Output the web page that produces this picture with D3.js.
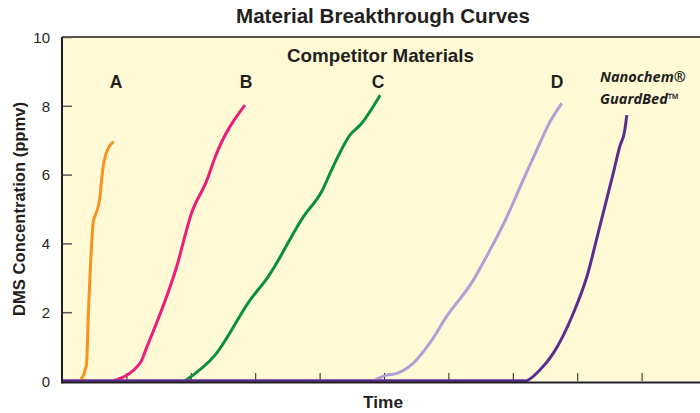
<!DOCTYPE html>
<html>
<head>
<meta charset="utf-8">
<script src="https://cdn.jsdelivr.net/npm/d3@7"></script>
<style>
  body { margin: 0; background: #fff; }
  text { font-family: "Liberation Sans", Arial, sans-serif; fill: #231f20; }
  .ttl { font-weight: bold; }
  .tick text { font-size: 15px; }
  .brand { font-family: "Open Sans", sans-serif; font-style: italic; font-weight: 700; font-size: 14.5px; }
</style>
</head>
<body>
<script>
// breakthrough curves, [time, ppmv]
var curveA = [[0.28,0],[0.38,0.47],[0.41,1.97],[0.49,4.68],[0.51,4.78],[0.59,5.36],[0.62,5.94],[0.67,6.52],[0.80,6.96]];
var curveB = [[0.79,0],[1.21,0.51],[1.32,1.0],[1.78,3.32],[2.01,4.87],[2.25,5.84],[2.38,6.52],[2.84,8.02]];
var curveC = [[1.91,0],[2.38,0.76],[2.92,2.35],[3.20,3.03],[3.75,4.78],[4.03,5.50],[4.21,6.23],[4.47,7.15],[4.63,7.44],[4.94,8.31]];
var curveD = [[4.83,0],[5.04,0.17],[5.20,0.22],[5.45,0.51],[5.71,1.10],[5.97,1.87],[6.39,2.94],[6.59,3.61],[6.91,4.78],[7.16,5.84],[7.42,6.91],[7.55,7.44],[7.76,8.07]];
var curveN = [[0,0],[7.19,0],[7.42,0.32],[7.63,0.81],[7.94,1.97],[8.15,3.03],[8.35,4.49],[8.56,6.04],[8.66,6.81],[8.74,7.30],[8.77,7.73]];

var yTicks = [0,2,4,6,8,10];
var xTicks = [1,2,3,4,5,6,7,8,9];

var W = 700, H = 413;
var svg = d3.select("body").append("svg").attr("width", W).attr("height", H);

var x = d3.scaleLinear().domain([0,10]).range([62,706]);
var y = d3.scaleLinear().domain([0,10]).range([381,37]);

// plot background
svg.append("rect").attr("x", x(0)).attr("y", y(10)).attr("width", W - x(0) + 5).attr("height", y(0) - y(10))
  .attr("fill", "#fff9d5");
svg.append("line").attr("x1", x(0)).attr("x2", W).attr("y1", y(10)).attr("y2", y(10))
  .attr("stroke", "#231f20").attr("stroke-width", 1.5);

// axes
var gy = svg.append("g").attr("transform", "translate(" + x(0) + ",0)")
  .call(d3.axisLeft(y).tickValues(yTicks).tickSize(-10).tickPadding(12));
gy.select(".domain").remove();
gy.selectAll(".tick line").attr("stroke", "#5a5a5a").attr("stroke-width", 1.5);
gy.selectAll(".tick text").attr("dy", "0.35em");

var gx = svg.append("g").attr("transform", "translate(0," + y(0) + ")")
  .call(d3.axisBottom(x).tickValues(xTicks).tickSize(-8).tickFormat(""));
gx.select(".domain").remove();
gx.selectAll(".tick line").attr("stroke", "#231f20").attr("stroke-width", 1);

var line = d3.line().x(d => x(d[0])).y(d => y(d[1])).curve(d3.curveMonotoneX);

var series = [
  {pts: curveN, color: "#5c2d91"},
  {pts: curveA, color: "#f7941d"},
  {pts: curveB, color: "#ec1e79"},
  {pts: curveC, color: "#0a8f41"},
  {pts: curveD, color: "#ae9fd6"}
];
svg.selectAll(".curve").data(series).enter().append("path").attr("class", "curve")
  .attr("d", d => line(d.pts)).attr("fill", "none").attr("stroke", d => d.color)
  .attr("stroke-width", 3).attr("stroke-linejoin", "round");

// purple baseline re-drawn over the others, then axis lines
svg.append("path").attr("d", line(curveN.slice(0,2))).attr("fill", "none")
  .attr("stroke", "#5c2d91").attr("stroke-width", 3);
svg.append("line").attr("x1", x(0)).attr("x2", W).attr("y1", y(0) + 1.5).attr("y2", y(0) + 1.5)
  .attr("stroke", "#231f20").attr("stroke-width", 2);
svg.append("line").attr("x1", x(0)).attr("x2", x(0)).attr("y1", y(10)).attr("y2", y(0) + 2.5)
  .attr("stroke", "#231f20").attr("stroke-width", 2);

// titles (condensed look: bigger font squeezed to the measured width)
svg.append("text").attr("class", "ttl").attr("x", 236).attr("y", 23)
  .attr("textLength", 294).attr("lengthAdjust", "spacingAndGlyphs")
  .style("font-size", "20px").text("Material Breakthrough Curves");
svg.append("text").attr("class", "ttl").attr("x", 287).attr("y", 62)
  .attr("textLength", 187).attr("lengthAdjust", "spacingAndGlyphs")
  .style("font-size", "18.5px").text("Competitor Materials");
svg.append("text").attr("class", "ttl").attr("x", 363).attr("y", 408)
  .attr("textLength", 40).attr("lengthAdjust", "spacingAndGlyphs")
  .style("font-size", "16px").text("Time");
svg.append("text").attr("class", "ttl").attr("transform", "translate(25,316) rotate(-90)")
  .attr("textLength", 214).attr("lengthAdjust", "spacingAndGlyphs")
  .style("font-size", "16.5px").text("DMS Concentration (ppmv)");

var labels = [["A",116],["B",246],["C",378],["D",557]];
svg.selectAll(".lbl").data(labels).enter().append("text").attr("class", "ttl lbl")
  .attr("x", d => d[1]).attr("y", 88).attr("text-anchor", "middle").style("font-size", "17.5px")
  .text(d => d[0]);

svg.append("text").attr("class", "brand").attr("x", 600).attr("y", 82).text("Nanochem®");
svg.append("text").attr("class", "brand").attr("x", 600).attr("y", 104).text("GuardBed™");
</script>
</body>
</html>
